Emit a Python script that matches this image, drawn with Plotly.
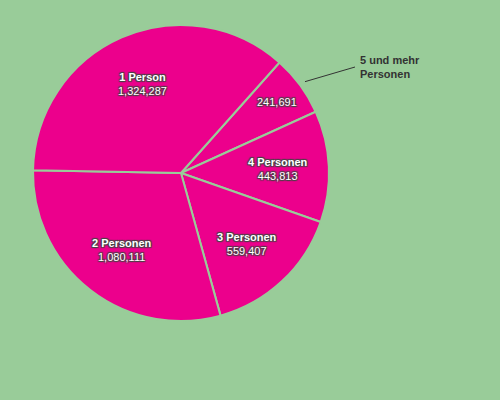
import math

import plotly.graph_objects as go

labels = ["1 Person", "2 Personen", "3 Personen", "4 Personen", "5 und mehr Personen"]
values = [1324287, 1080111, 559407, 443813, 241691]
# the last slice gets its name outside, next to a leader line
outside_label = "5 und mehr<br>Personen"

W, H = 500, 400
BG = "#99cc99"
PINK = "#ec008c"
START = 41.7  # where "1 Person" starts, clockwise from 12 o'clock; slices go counterclockwise

# pie box in pixels (left, top, size)
px0, py0, size = 33, 25, 296
cx, cy, R = px0 + size / 2, py0 + size / 2, size / 2


def to_paper(x, y):
    return x / W, 1 - y / H


# plotly draws clockwise from `rotation`, so hand it the slices in reverse
fig = go.Figure(
    go.Pie(
        labels=labels[::-1],
        values=values[::-1],
        sort=False,
        direction="clockwise",
        rotation=START,
        marker=dict(colors=[PINK] * len(values), line=dict(color=BG, width=2)),
        textinfo="none",
        hovertemplate="<b>%{label}</b><br>%{value:,}<extra></extra>",
        showlegend=False,
        domain=dict(
            x=[px0 / W, (px0 + size) / W],
            y=[1 - (py0 + size) / H, 1 - py0 / H],
        ),
    )
)

# labels along each slice's middle angle
total = sum(values)
start = START
mids = []
for v in values:
    span = v / total * 360
    mids.append(start - span / 2)
    start -= span

for i, (lab, v, mid) in enumerate(zip(labels, values, mids)):
    a = math.radians(mid)
    last = i == len(values) - 1
    r = 119 if last else 97
    x, y = to_paper(cx + r * math.sin(a), cy - r * math.cos(a))
    text = f"{v:,}" if last else f"<b>{lab}</b><br>{v:,}"
    fig.add_annotation(
        x=x, y=y, xref="paper", yref="paper", text=text, showarrow=False,
        xanchor="center", yanchor="middle",
        font=dict(family="Liberation Sans, Arial", size=11, color="white", shadow="auto"),
    )

# outside label with leader line for the last slice
a = math.radians(mids[-1])
x0, y0 = to_paper(cx + (R + 6) * math.sin(a), cy - (R + 6) * math.cos(a))
x1, y1 = to_paper(355, 67)
fig.add_shape(type="line", xref="paper", yref="paper", x0=x0, y0=y0, x1=x1, y1=y1,
              line=dict(color="#333333", width=1))
tx, ty = to_paper(358, 67)
fig.add_annotation(
    x=tx, y=ty, xref="paper", yref="paper", text=f"<b>{outside_label}</b>",
    showarrow=False, xanchor="left", yanchor="middle", align="left",
    font=dict(family="Liberation Sans, Arial", size=11, color="#333333"),
)

fig.update_layout(
    width=W,
    height=H,
    margin=dict(l=0, r=0, t=0, b=0),
    paper_bgcolor=BG,
    plot_bgcolor=BG,
)

fig.write_html(
    "out.html",
    config={"displayModeBar": False},
    post_script="document.body.style.margin='0';",
)
